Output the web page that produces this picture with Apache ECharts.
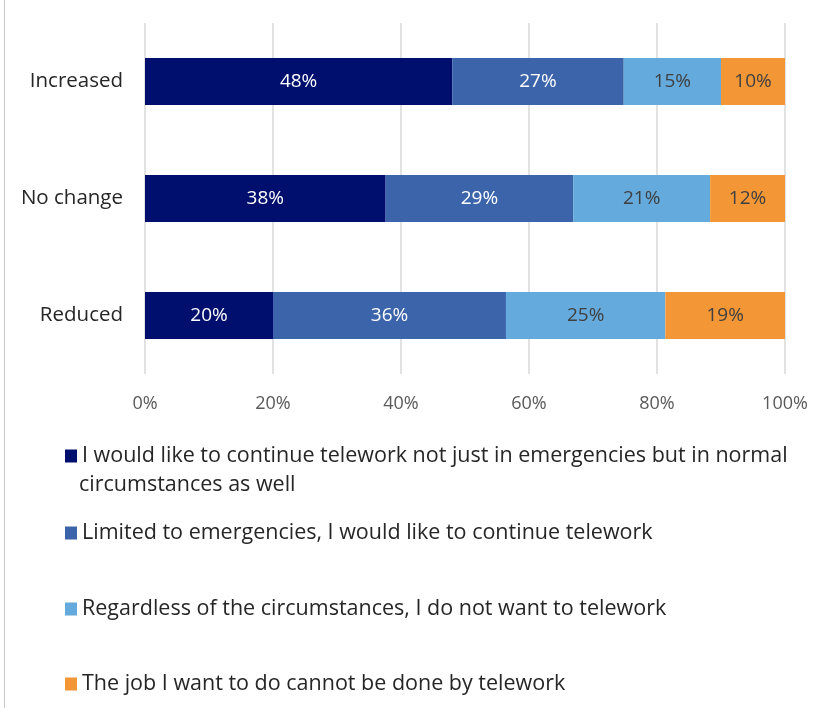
<!DOCTYPE html>
<html>
<head>
<meta charset="utf-8">
<script src="https://cdn.jsdelivr.net/npm/echarts@6/dist/echarts.min.js"></script>
<style>
html,body{margin:0;padding:0;background:#fff;}
#c{width:832px;height:708px;}
</style>
</head>
<body>
<div id="c"></div>
<script>
const categories = ['Increased', 'No change', 'Reduced'];
const seriesNames = [
  'I would like to continue telework not just in emergencies but in normal circumstances as well',
  'Limited to emergencies, I would like to continue telework',
  'Regardless of the circumstances, I do not want to telework',
  'The job I want to do cannot be done by telework'
];
const continueNormal = [48, 37.6, 20];
const limitedEmergencies = [26.8, 29.3, 36.4];
const doNotWant = [15.2, 21.4, 24.9];
const cannotTelework = [10, 11.7, 18.7];
const xTicks = [0, 20, 40, 60, 80, 100];

const colors = ['#000F6E', '#3C64AB', '#64AADC', '#F39636'];
const labelColors = ['#ffffff', '#ffffff', '#404040', '#404040'];
const values = [continueNormal, limitedEmergencies, doNotWant, cannotTelework];
const font = '"Open Sans", "Noto Sans", sans-serif';

const chart = echarts.init(document.getElementById('c'), null, {renderer: 'canvas'});

const series = seriesNames.map((name, i) => ({
  name: name,
  type: 'bar',
  stack: 'total',
  barWidth: '40%',
  data: categories.slice().reverse().map((c, k) => values[i][categories.length - 1 - k]),
  itemStyle: {color: colors[i]},
  label: {
    show: true,
    position: 'inside',
    color: labelColors[i],
    fontSize: 19,
    fontFamily: font,
    formatter: p => Math.round(p.value) + '%'
  }
}));

const legendCenters = [451, 528, 604, 679];
const legends = seriesNames.map((name, i) => ({
  data: [name],
  left: 60,
  top: legendCenters[i] - 12,
  icon: 'rect',
  itemWidth: 12,
  itemHeight: 13,
  itemGap: 7,
  selectedMode: false,
  textStyle: {
    fontSize: 21.5,
    fontFamily: font,
    color: '#262626',
    lineHeight: 24
  },
  formatter: n => i === 0 ? 'I would like to continue telework not just in emergencies but in normal' : n
}));

chart.setOption({
  animation: false,
  backgroundColor: '#ffffff',
  grid: {left: 145, right: 47, top: 23, height: 351},
  xAxis: {
    type: 'value',
    min: 0,
    max: 100,
    interval: 20,
    axisLabel: {
      formatter: v => xTicks.includes(v) ? v + '%' : '',
      fontSize: 18,
      fontFamily: font,
      color: '#595959',
      margin: 21
    },
    axisLine: {show: false},
    axisTick: {show: false},
    splitLine: {lineStyle: {color: '#d9d9d9', width: 1.5}}
  },
  yAxis: {
    type: 'category',
    data: categories.slice().reverse(),
    axisLine: {show: false},
    axisTick: {show: false},
    axisLabel: {fontSize: 20.5, fontFamily: font, color: '#262626', margin: 22}
  },
  legend: legends,
  series: series,
  graphic: [{
    type: 'line',
    shape: {x1: 4.5, y1: 0, x2: 4.5, y2: 708},
    style: {stroke: '#c8c8c8', lineWidth: 1}
  }, {
    type: 'text',
    left: 79,
    top: 485 - 12,
    style: {
      text: 'circumstances as well',
      fontSize: 21.5,
      fontFamily: font,
      fill: '#262626',
      lineHeight: 24
    }
  }]
});
</script>
</body>
</html>
